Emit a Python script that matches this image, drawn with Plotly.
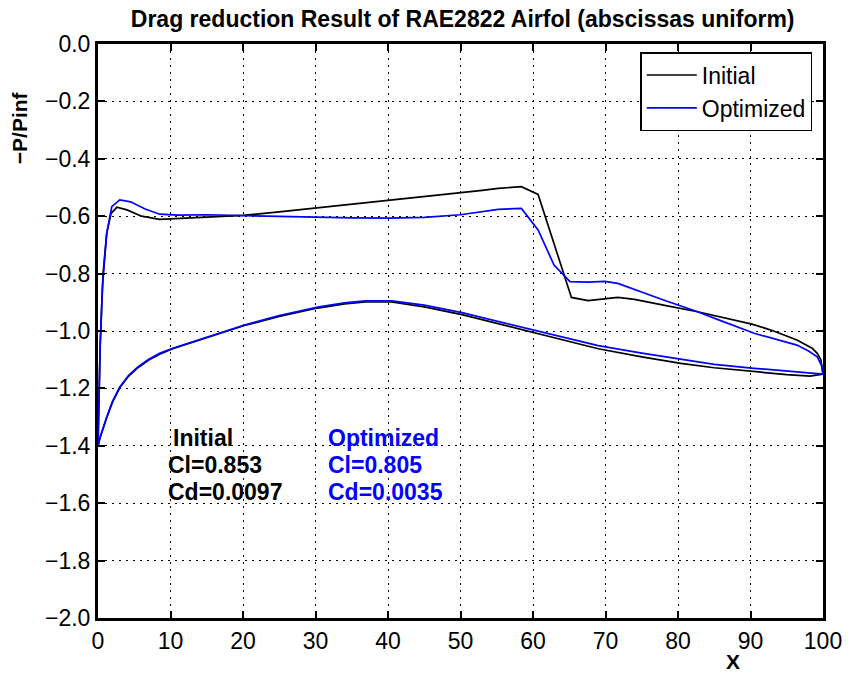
import plotly.graph_objects as go

# ---------------- data ----------------
# Initial airfoil, upper surface (x increasing from leading edge)
ini_up_x = [0, 0.3, 0.7, 1.2, 1.8, 2.6, 4, 6, 8.5, 11, 15, 20, 25, 30, 35, 40, 45, 50, 53,
            55.2, 58.4, 60.7, 65.3, 67.6, 71.7, 74.0, 78, 82.7, 86, 90.2, 93, 96.4, 98.5,
            99.2, 99.7, 100]
ini_up_y = [-1.40, -1.05, -0.80, -0.66, -0.59, -0.569, -0.578, -0.600, -0.611, -0.607,
            -0.602, -0.597, -0.585, -0.572, -0.560, -0.547, -0.533, -0.518, -0.510,
            -0.503, -0.497, -0.524, -0.883, -0.894, -0.883, -0.890, -0.910, -0.933,
            -0.952, -0.976, -0.998, -1.031, -1.060, -1.078, -1.100, -1.150]
# Initial airfoil, lower surface
ini_lo_x = [0, 0.3, 0.7, 1.2, 2.0, 3.0, 4.2, 5.5, 7, 8.5, 10.3, 14, 20.2, 25, 30.3, 34,
            36.9, 40.5, 45, 50.2, 55, 60.3, 65, 69, 75, 80.4, 85, 90.5, 95, 98.2, 100]
ini_lo_y = [-1.40, -1.37, -1.337, -1.302, -1.248, -1.198, -1.158, -1.128, -1.101, -1.081,
            -1.062, -1.031, -0.981, -0.949, -0.920, -0.906, -0.899, -0.899, -0.916,
            -0.943, -0.974, -1.006, -1.036, -1.062, -1.090, -1.113, -1.128, -1.142,
            -1.152, -1.157, -1.150]

# Optimized airfoil, upper surface
opt_up_x = [0, 0.3, 0.6, 1.2, 1.9, 3.0, 4.5, 6.5, 8.5, 11, 15, 20, 25, 30, 35, 40, 45, 50,
            53, 55.2, 58.4, 60.7, 62.9, 65.1, 67.6, 69.9, 71.7, 73.5, 78, 82.7, 85.7,
            90.5, 93.5, 96.4, 98, 99.2, 99.8, 100]
opt_up_y = [-1.40, -1.05, -0.85, -0.66, -0.567, -0.543, -0.550, -0.575, -0.593, -0.596,
            -0.595, -0.597, -0.600, -0.603, -0.606, -0.607, -0.604, -0.595, -0.583,
            -0.576, -0.573, -0.648, -0.770, -0.828, -0.830, -0.827, -0.834, -0.851,
            -0.892, -0.933, -0.962, -1.008, -1.028, -1.049, -1.070, -1.090, -1.120, -1.150]
# Optimized airfoil, lower surface
opt_lo_x = [0, 0.3, 0.7, 1.2, 2.0, 3.0, 4.2, 5.5, 7, 8.5, 10.3, 14, 20.2, 25, 30.3, 34,
            36.9, 40.5, 45, 50.2, 55, 60.3, 65, 69, 75, 80.4, 85, 90.5, 95, 100]
opt_lo_y = [-1.40, -1.37, -1.335, -1.300, -1.245, -1.195, -1.155, -1.125, -1.098, -1.078,
            -1.060, -1.029, -0.979, -0.946, -0.917, -0.902, -0.895, -0.895, -0.910,
            -0.936, -0.966, -0.999, -1.027, -1.051, -1.077, -1.099, -1.116, -1.130,
            -1.140, -1.150]

series_names = ["Initial", "Optimized"]
series_colors = ["#000000", "#0000ff"]

x_ticks = [0, 10, 20, 30, 40, 50, 60, 70, 80, 90, 100]
x_tick_text = ["0", "10", "20", "30", "40", "50", "60", "70", "80", "90", "100"]
y_ticks = [0.0, -0.2, -0.4, -0.6, -0.8, -1.0, -1.2, -1.4, -1.6, -1.8, -2.0]
y_tick_text = ["0.0", "\u22120.2", "\u22120.4", "\u22120.6", "\u22120.8", "\u22121.0",
               "\u22121.2", "\u22121.4", "\u22121.6", "\u22121.8", "\u22122.0"]

# text block annotations
ini_text = ["Initial", "Cl=0.853", "Cd=0.0097"]
ini_text_x = [10.1, 9.4, 9.4]
opt_text = ["Optimized", "Cl=0.805", "Cd=0.0035"]
opt_text_x = [31.4, 31.4, 31.4]
text_y = [-1.372, -1.468, -1.560]

title_text = "Drag reduction Result of RAE2822 Airfol (abscissas uniform)"
xlabel_text = "X"
ylabel_text = "\u2212P/Pinf"

FONT = "Liberation Sans, Arial, Helvetica, sans-serif"

# ---------------- figure ----------------
def loop(ux, uy, lx, ly):
    # trailing edge -> upper surface -> leading edge -> lower surface -> trailing edge
    xs = list(reversed(ux)) + lx[1:]
    ys = list(reversed(uy)) + ly[1:]
    return xs, ys

fig = go.Figure()
for name, col, (ux, uy, lx, ly) in zip(
        series_names, series_colors,
        [(ini_up_x, ini_up_y, ini_lo_x, ini_lo_y),
         (opt_up_x, opt_up_y, opt_lo_x, opt_lo_y)]):
    xs, ys = loop(ux, uy, lx, ly)
    fig.add_trace(go.Scatter(x=xs, y=ys, mode="lines", name=name,
                             line=dict(color=col, width=1.7)))

annos = []
for t, xx, yy in zip(ini_text, ini_text_x, text_y):
    annos.append(dict(x=xx, y=yy, xref="x", yref="y", text="<b>%s</b>" % t,
                      showarrow=False, xanchor="left", yanchor="middle",
                      font=dict(family=FONT, size=23, color=series_colors[0])))
for t, xx, yy in zip(opt_text, opt_text_x, text_y):
    annos.append(dict(x=xx, y=yy, xref="x", yref="y", text="<b>%s</b>" % t,
                      showarrow=False, xanchor="left", yanchor="middle",
                      font=dict(family=FONT, size=23, color=series_colors[1])))
# axis labels
annos.append(dict(x=87.6, y=-0.075, xref="x", yref="paper", text="<b>%s</b>" % xlabel_text,
                  showarrow=False, xanchor="center", yanchor="middle",
                  font=dict(family=FONT, size=21, color="black")))
annos.append(dict(x=-0.109, y=0.855, xref="paper", yref="paper", text="<b>%s</b>" % ylabel_text,
                  showarrow=False, xanchor="center", yanchor="middle", textangle=-90,
                  font=dict(family=FONT, size=21, color="black")))

axis_common = dict(
    showline=True, linewidth=3, linecolor="black", mirror="ticks",
    ticks="inside", ticklen=7, tickwidth=1.5, tickcolor="black",
    showgrid=True, gridcolor="black", gridwidth=1, griddash="2px,5px",
    zeroline=False, tickfont=dict(family=FONT, size=23, color="black"),
)

fig.update_layout(
    width=854, height=685,
    margin=dict(l=98, r=28, t=44, b=67),
    paper_bgcolor="white", plot_bgcolor="white",
    font=dict(family=FONT, color="black"),
    title=dict(text="<b>%s</b>" % title_text, x=0.503, xref="paper", xanchor="center",
               y=0.972, yanchor="middle", font=dict(family=FONT, size=23, color="black")),
    xaxis=dict(range=[0, 100], tickvals=x_ticks, ticktext=x_tick_text, **axis_common),
    yaxis=dict(range=[-2, 0], tickvals=y_ticks, ticktext=y_tick_text, **axis_common),
    legend=dict(x=0.748, y=0.986, xanchor="left", yanchor="top",
                bgcolor="white", bordercolor="black", borderwidth=1.5,
                font=dict(family=FONT, size=23, color="black"),
                itemwidth=50, tracegroupgap=0),
    showlegend=True,
    annotations=annos,
)

fig.write_html("out.html", config={"displayModeBar": False},
               post_script="document.body.style.margin='0px';")
